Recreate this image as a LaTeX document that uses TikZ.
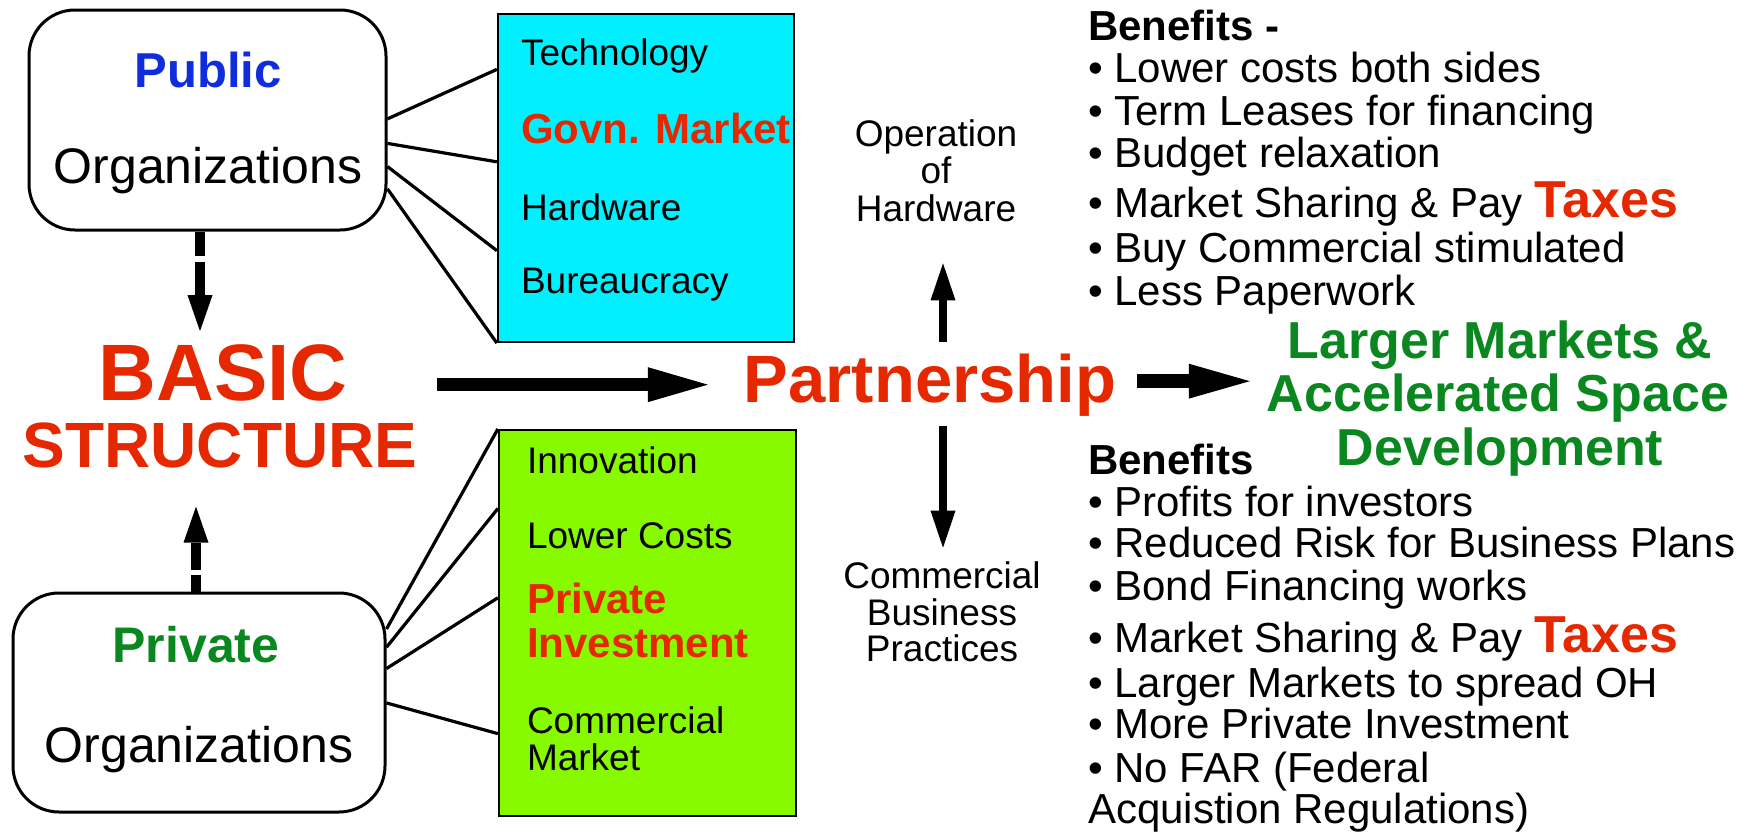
\documentclass[tikz,border=0pt]{standalone}
\usepackage{fontspec}
\setmainfont{Liberation Sans}
\usetikzlibrary{arrows.meta,calc}
\definecolor{cyanbox}{RGB}{0,240,255}
\definecolor{limebox}{RGB}{135,250,0}
\definecolor{myred}{RGB}{230,40,0}
\definecolor{mygreen}{RGB}{10,135,30}
\definecolor{myblue}{RGB}{15,45,220}
\newcommand{\myfs}[1]{\fontsize{#1}{#1}\selectfont}
\tikzset{
  txt/.style={inner sep=0pt, outer sep=0pt},
  orgbox/.style={draw, line width=1.5pt, rounded corners=23pt, inner sep=0pt},
  catbox/.style={draw, line width=1.1pt, inner sep=0pt},
  connline/.style={line width=1.6pt},
  dasharrow/.style={line width=5pt, -{Triangle[length=18pt 0 0,width=12.5pt 0 0,line width=0pt]}},
  bigarrow/.style={line width=6.75pt, -{Triangle[length=30pt 0 0,width=17.5pt 0 0,line width=0pt]}},
  bigarrowb/.style={line width=7pt, -{Triangle[length=30.5pt 0 0,width=17.5pt 0 0,line width=0pt]}},
  thinarrow/.style={line width=4pt, -{Triangle[length=18.5pt 0 0,width=12.5pt 0 0,line width=0pt]}},
  itemtxt/.style={txt, anchor=base west, font=\myfs{21}},
  boxtxt/.style={txt, anchor=base west, font=\myfs{18.5}},
  boxred/.style={txt, anchor=base west, font=\bfseries\myfs{21}, text=myred},
  sidetxt/.style={txt, anchor=base, font=\myfs{18.5}},
  goaltxt/.style={txt, anchor=base, font=\bfseries\myfs{26}, text=mygreen}
}
\begin{document}
\begin{tikzpicture}[x=0.5pt,y=-0.5pt]
\useasboundingbox (0,0) rectangle (1752,835);

% organization boxes
\node[orgbox, minimum width=178.5pt, minimum height=110pt] (pub) at (207.5,120) {};
\node[txt, anchor=base, font=\bfseries\myfs{24.5}, text=myblue] (publbl) at (208,87) {Public};
\node[txt, anchor=base, font=\myfs{25}] (puborg) at (208,183) {Organizations};

\node[orgbox, minimum width=186pt, minimum height=109.5pt] (pr) at (199,702.5) {};
\node[txt, anchor=base, font=\bfseries\myfs{25}, text=mygreen] (prlbl) at (196,662) {Private};
\node[txt, anchor=base, font=\myfs{25}] (prorg) at (199,762) {Organizations};

% category boxes
\node[catbox, fill=cyanbox, minimum width=148pt, minimum height=164pt] (cy) at (646,178) {};
\node[boxtxt] (tech) at (521,65) {Technology};
\node[boxred] (govn) at (521,143) {Govn. Market};
\node[boxtxt] (hard) at (521,220) {Hardware};
\node[boxtxt] (bur) at (521,293) {Bureaucracy};

\node[catbox, fill=limebox, minimum width=148.5pt, minimum height=193pt] (gr) at (647.5,623) {};
\node[boxtxt] (innov) at (527,473) {Innovation};
\node[boxtxt] (lowc) at (527,548) {Lower Costs};
\node[boxred] (pinv1) at (527,613) {Private};
\node[boxred] (pinv2) at (527,657) {Investment};
\node[boxtxt] (cmk1) at (527,733) {Commercial};
\node[boxtxt] (cmk2) at (527,770) {Market};

% connectors public -> cyan
\draw[connline] ($(pub.north east)!0.495!(pub.south east)$) -- ($(cy.north west)!0.171!(cy.south west)$);
\draw[connline] ($(pub.north east)!0.605!(pub.south east)$) -- ($(cy.north west)!0.451!(cy.south west)$);
\draw[connline] ($(pub.north east)!0.709!(pub.south east)$) -- ($(cy.north west)!0.720!(cy.south west)$);
\draw[connline] ($(pub.north east)!0.809!(pub.south east)$) -- (cy.south west);

% connectors private -> green
\draw[connline] ($(pr.north east)!0.169!(pr.south east)$) -- (gr.north west);
\draw[connline] ($(pr.north east)!0.251!(pr.south east)$) -- ($(gr.north west)!0.205!(gr.south west)$);
\draw[connline] ($(pr.north east)!0.347!(pr.south east)$) -- ($(gr.north west)!0.435!(gr.south west)$);
\draw[connline] ($(pr.north east)!0.502!(pr.south east)$) -- ($(gr.north west)!0.785!(gr.south west)$);

% basic structure
\node[txt, anchor=base, font=\bfseries\myfs{40}, text=myred] (basic) at (223,400) {BASIC};
\node[txt, anchor=base, font=\bfseries\myfs{32}, text=myred] (struct) at (220,467) {STRUCTURE};

\draw[dasharrow, dash pattern=on 12pt off 3pt on 20pt] ([xshift=-3.75pt]pub.south) -- ([xshift=-3.75pt, yshift=6.5pt]pub.south |- basic.north);
\draw[dasharrow, dash pattern=on 8.5pt off 2.5pt on 20pt] ([xshift=-1.5pt]pr.north) -- ([xshift=-1.5pt, yshift=-19.5pt]pr.north |- struct.south);

% partnership
\node[txt, anchor=base, font=\bfseries\myfs{33.5}, text=myred] (part) at (930,402) {Partnership};
\draw[bigarrow, shorten >=18pt] ([xshift=10pt]struct.east |- part.west) -- (part.west);

\node[sidetxt] (op1) at (936,146) {Operation};
\node[sidetxt] (op2) at (936,183) {of};
\node[sidetxt] (hw) at (936,221) {Hardware};
\node[sidetxt] (comm) at (942,588) {Commercial};
\node[sidetxt] (bus) at (942,625) {Business};
\node[sidetxt] (prac) at (942,661) {Practices};

\draw[thinarrow] ([xshift=6.5pt,yshift=5.5pt]part.north) -- ([xshift=6.5pt,yshift=-21pt]part.north |- hw.south);
\draw[thinarrow] ([xshift=6.5pt,yshift=-5pt]part.south) -- ([xshift=6.5pt,yshift=6.75pt]part.south |- comm.north);

% goal
\node[goaltxt] (lm1) at (1500,358) {Larger Markets \&};
\node[goaltxt] (lm2) at (1498,411) {Accelerated Space};
\node[goaltxt] (lm3) at (1500,465) {Development};
\draw[bigarrowb, shorten >=8.5pt] ([xshift=10.5pt,yshift=1.75pt]part.east) -- ([yshift=1.75pt]part.east -| lm2.west);

% benefits (top)
\node[itemtxt, font=\bfseries\myfs{21}] (b0) at (1088,40) {Benefits -};
\node[itemtxt] (b1) at (1088,82) {• Lower costs both sides};
\node[itemtxt] (b2) at (1088,125) {• Term Leases for financing};
\node[itemtxt] (b3) at (1088,167) {• Budget relaxation};
\node[itemtxt] (b4) at (1088,217) {• Market Sharing \& Pay {\bfseries\color{myred}\myfs{26}Taxes}};
\node[itemtxt] (b5) at (1088,262) {• Buy Commercial stimulated};
\node[itemtxt] (b6) at (1088,305) {• Less Paperwork};

% benefits (bottom)
\node[itemtxt, font=\bfseries\myfs{21}] (c0) at (1088,474) {Benefits};
\node[itemtxt] (c1) at (1088,516) {• Profits for investors};
\node[itemtxt] (c2) at (1088,557) {• Reduced Risk for Business Plans};
\node[itemtxt] (c3) at (1088,600) {• Bond Financing works};
\node[itemtxt] (c4) at (1088,652) {• Market Sharing \& Pay {\bfseries\color{myred}\myfs{26}Taxes}};
\node[itemtxt] (c5) at (1088,697) {• Larger Markets to spread OH};
\node[itemtxt] (c6) at (1088,738) {• More Private Investment};
\node[itemtxt] (c7) at (1088,782) {• No FAR (Federal};
\node[itemtxt] (c8) at (1088,823) {Acquistion Regulations)};
\end{tikzpicture}
\end{document}
